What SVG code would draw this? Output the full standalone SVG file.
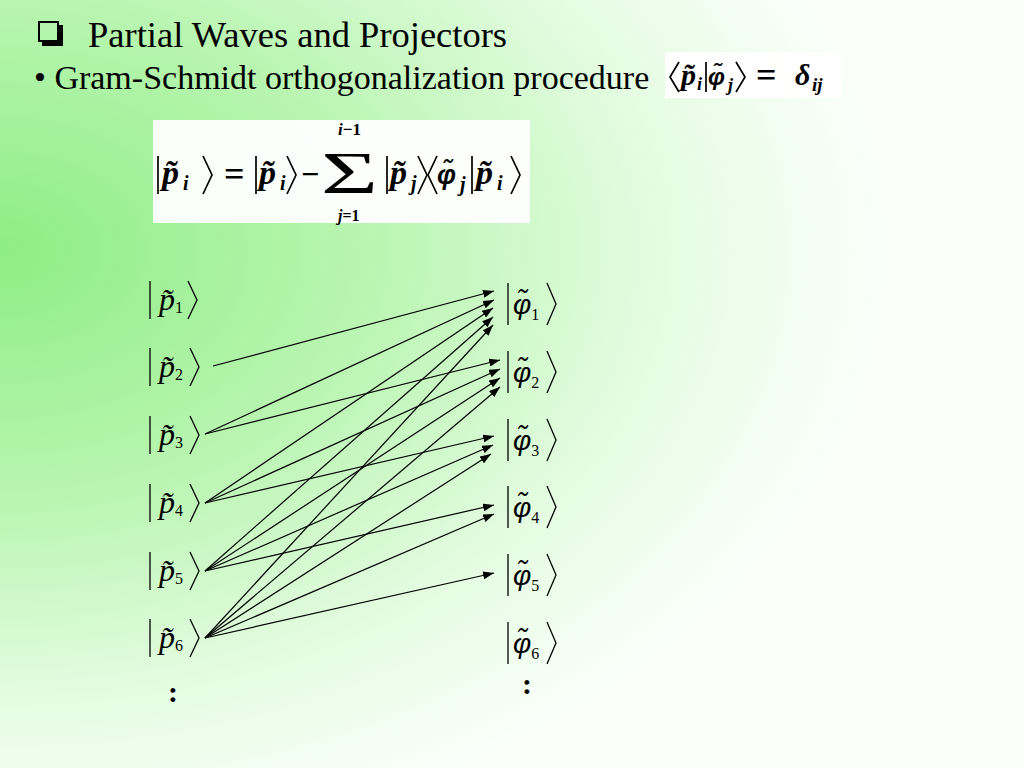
<svg xmlns="http://www.w3.org/2000/svg" width="1024" height="768" viewBox="0 0 1024 768">
<defs>
<radialGradient id="bg" gradientUnits="userSpaceOnUse" cx="0" cy="250" r="900" gradientTransform="translate(0,250) scale(1,0.68) translate(0,-250)">
<stop offset="0" stop-color="#8eed84"/>
<stop offset="0.4" stop-color="#b8f5b0"/>
<stop offset="0.75" stop-color="#e6fce3"/>
<stop offset="1" stop-color="#fbfffb"/>
</radialGradient>
<marker id="ah" markerWidth="11" markerHeight="8" refX="11" refY="4" orient="auto" markerUnits="userSpaceOnUse">
<path d="M0,0 L11,4 L0,8 z" fill="#000"/>
</marker>
<style>
.t { font-family: "Liberation Serif", "Times New Roman", serif; fill: #000; }
.v { font-family: "Liberation Serif", "Times New Roman", serif; font-style: italic; font-size: 32px; fill: #000; }
.phi { font-family: "Liberation Sans", Arial, sans-serif; font-size: 28px; }
.sub { font-family: "Liberation Serif", "Times New Roman", serif; font-style: normal; font-size: 16px; }
.bv { font-family: "Liberation Serif", "Times New Roman", serif; font-style: italic; font-weight: bold; fill: #000; }
.bphi { font-family: "Liberation Sans", Arial, sans-serif; }
.up { font-style: normal; }
.d { stroke: #000; stroke-width: 1.3; fill: none; }
.fd { stroke: #000; stroke-width: 1.7; fill: none; }
.conn line { stroke: #000; stroke-width: 1.2; marker-end: url(#ah); }
.dots { font-family: "Liberation Serif", "Times New Roman", serif; font-size: 30px; font-weight: bold; text-anchor: middle; fill: #000; }
</style>
</defs>
<rect x="0" y="0" width="1024" height="768" fill="url(#bg)"/>

<g id="title">
<rect x="39" y="22" width="19" height="19" fill="none" stroke="#000" stroke-width="2"/>
<path d="M58,25 H63 V46 H42 V41 H58 Z" fill="#000"/>
<text class="t" x="88" y="47" font-size="36.5">Partial Waves and Projectors</text>
</g>

<g id="subtitle">
<text class="t" x="34" y="89" font-size="34">• Gram-Schmidt orthogonalization procedure</text>
</g>

<g id="formula-orthonormality">
<rect x="665" y="52" width="177" height="46" fill="#ffffff" fill-opacity="0.92"/>
<polyline class="fd" points="679,62 670,77 679,92"/>
<line class="fd" x1="706" y1="62" x2="706" y2="92"/>
<polyline class="fd" points="736,62 745,77 736,92"/>
<text class="bv" font-size="30"><tspan x="681" y="85">p̃</tspan><tspan x="697" y="90" font-size="18">i</tspan><tspan class="bphi" x="708" y="85" font-size="24">φ̃</tspan><tspan x="728" y="91" font-size="18">j</tspan><tspan class="up" x="756" y="87" font-size="36">=</tspan><tspan x="795" y="85">δ</tspan><tspan x="812" y="91" font-size="19">ij</tspan></text>
</g>

<g id="formula-gram-schmidt">
<rect x="153" y="120" width="377" height="103" fill="#ffffff" fill-opacity="0.95"/>
<line class="fd" x1="158" y1="156" x2="158" y2="194"/>
<polyline class="fd" points="203,156 212,175 203,194"/>
<line class="fd" x1="256" y1="156" x2="256" y2="194"/>
<polyline class="fd" points="287,156 296,175 287,194"/>
<line class="fd" x1="387" y1="156" x2="387" y2="194"/>
<polyline class="fd" points="418,156 427,175 418,194"/>
<polyline class="fd" points="437,156 428,175 437,194"/>
<line class="fd" x1="472" y1="156" x2="472" y2="194"/>
<polyline class="fd" points="511,156 520,175 511,194"/>
<text class="bv" font-size="34"><tspan x="162" y="184">p̃</tspan><tspan x="183" y="190" font-size="20">i</tspan><tspan class="up" x="224" y="186" font-size="36">=</tspan><tspan x="259" y="184">p̃</tspan><tspan x="280" y="190" font-size="20">i</tspan><tspan class="up" x="301" y="185" font-size="32">−</tspan><tspan class="up" font-weight="normal" x="321" y="193" font-size="60" textLength="57" lengthAdjust="spacingAndGlyphs">Σ</tspan><tspan x="338" y="135" font-size="17">i</tspan><tspan class="up" font-size="17">−1</tspan><tspan x="338" y="221" font-size="16">j</tspan><tspan class="up" font-size="16">=1</tspan><tspan x="390" y="184">p̃</tspan><tspan x="411" y="190" font-size="20">j</tspan><tspan class="bphi" x="437" y="184" font-size="27">φ̃</tspan><tspan x="460" y="191" font-size="20">j</tspan><tspan x="476" y="184">p̃</tspan><tspan x="497" y="190" font-size="20">i</tspan></text>
</g>

<g id="ket-p1">
<line class="d" x1="150" y1="281" x2="150" y2="319"/>
<text class="v" x="159" y="310">p̃<tspan class="sub" dy="3">1</tspan></text>
<polyline class="d" points="188,281 197,300 188,319"/>
</g>
<g id="ket-p2">
<line class="d" x1="150" y1="348" x2="150" y2="386"/>
<text class="v" x="159" y="377">p̃<tspan class="sub" dy="3">2</tspan></text>
<polyline class="d" points="190,348 199,367 190,386"/>
</g>
<g id="ket-p3">
<line class="d" x1="150" y1="416" x2="150" y2="454"/>
<text class="v" x="159" y="445">p̃<tspan class="sub" dy="3">3</tspan></text>
<polyline class="d" points="190,416 199,435 190,454"/>
</g>
<g id="ket-p4">
<line class="d" x1="150" y1="484" x2="150" y2="522"/>
<text class="v" x="159" y="513">p̃<tspan class="sub" dy="3">4</tspan></text>
<polyline class="d" points="190,484 199,503 190,522"/>
</g>
<g id="ket-p5">
<line class="d" x1="150" y1="552" x2="150" y2="590"/>
<text class="v" x="159" y="581">p̃<tspan class="sub" dy="3">5</tspan></text>
<polyline class="d" points="190,552 199,571 190,590"/>
</g>
<g id="ket-p6">
<line class="d" x1="150" y1="619" x2="150" y2="657"/>
<text class="v" x="159" y="648">p̃<tspan class="sub" dy="3">6</tspan></text>
<polyline class="d" points="190,619 199,638 190,657"/>
</g>

<g id="ket-phi1">
<line class="d" x1="508" y1="283" x2="508" y2="325"/>
<text class="v" x="513" y="314"><tspan class="phi">φ̃</tspan><tspan class="sub" dy="6">1</tspan></text>
<polyline class="d" points="547,283 556,304 547,325"/>
</g>
<g id="ket-phi2">
<line class="d" x1="508" y1="351" x2="508" y2="393"/>
<text class="v" x="513" y="382"><tspan class="phi">φ̃</tspan><tspan class="sub" dy="6">2</tspan></text>
<polyline class="d" points="547,351 556,372 547,393"/>
</g>
<g id="ket-phi3">
<line class="d" x1="508" y1="419" x2="508" y2="461"/>
<text class="v" x="513" y="450"><tspan class="phi">φ̃</tspan><tspan class="sub" dy="6">3</tspan></text>
<polyline class="d" points="547,419 556,440 547,461"/>
</g>
<g id="ket-phi4">
<line class="d" x1="508" y1="486" x2="508" y2="528"/>
<text class="v" x="513" y="517"><tspan class="phi">φ̃</tspan><tspan class="sub" dy="6">4</tspan></text>
<polyline class="d" points="547,486 556,507 547,528"/>
</g>
<g id="ket-phi5">
<line class="d" x1="508" y1="554" x2="508" y2="596"/>
<text class="v" x="513" y="585"><tspan class="phi">φ̃</tspan><tspan class="sub" dy="6">5</tspan></text>
<polyline class="d" points="547,554 556,575 547,596"/>
</g>
<g id="ket-phi6">
<line class="d" x1="508" y1="622" x2="508" y2="664"/>
<text class="v" x="513" y="653"><tspan class="phi">φ̃</tspan><tspan class="sub" dy="6">6</tspan></text>
<polyline class="d" points="547,622 556,643 547,664"/>
</g>

<g id="ellipsis-left"><text class="dots" x="173" y="702">:</text></g>
<g id="ellipsis-right"><text class="dots" x="527" y="694">:</text></g>

<g id="connectors" class="conn">
<line x1="213" y1="366" x2="494" y2="291"/>
<line x1="205" y1="434" x2="494" y2="300"/>
<line x1="205" y1="434" x2="500" y2="360"/>
<line x1="205" y1="503" x2="493" y2="308"/>
<line x1="205" y1="503" x2="500" y2="369"/>
<line x1="205" y1="503" x2="494" y2="436"/>
<line x1="205" y1="571" x2="493" y2="317"/>
<line x1="205" y1="571" x2="500" y2="378"/>
<line x1="205" y1="571" x2="493" y2="445"/>
<line x1="205" y1="571" x2="494" y2="505"/>
<line x1="205" y1="638" x2="493" y2="325"/>
<line x1="205" y1="638" x2="500" y2="387"/>
<line x1="205" y1="638" x2="491" y2="454"/>
<line x1="205" y1="638" x2="494" y2="514"/>
<line x1="205" y1="638" x2="494" y2="573"/>
</g>
</svg>
